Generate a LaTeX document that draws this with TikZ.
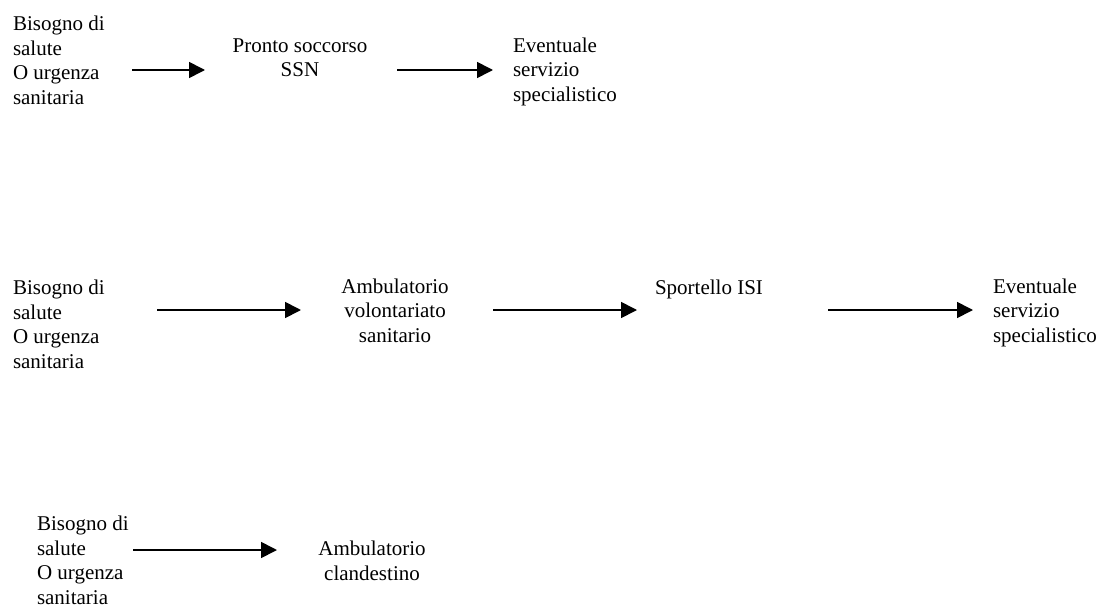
\documentclass[tikz,border=0pt]{standalone}
\usepackage{fontspec}
\setmainfont{Liberation Serif}
\usetikzlibrary{arrows.meta}
\begin{document}
\begin{tikzpicture}[x=1pt,y=-1pt,
  every node/.style={inner sep=0pt,outer sep=0pt,font=\fontsize{21}{24.5}\selectfont},
  leftlabel/.style={align=left,anchor=base west},
  midlabel/.style={align=center,anchor=base},
  flow/.style={line width=1.7pt,-{Triangle[length=16pt,width=16pt]}}]
\useasboundingbox (0,0) rectangle (1099,610);

% first path: emergency room (node base = last line's baseline)
\node[leftlabel] (need1) at (13,104) {Bisogno di\\salute\\O urgenza\\sanitaria};
\node[midlabel] (er) at (300,77) {Pronto soccorso\\SSN};
\node[leftlabel] (spec1) at (513,101) {Eventuale\\servizio\\specialistico};
\coordinate (a1s) at (132,70); \coordinate (a1e) at (205,70);
\coordinate (a2s) at (397,70); \coordinate (a2e) at (493,70);
\draw[flow] (a1s) -- (a1e);
\draw[flow] (a2s) -- (a2e);

% second path: volunteer clinic and ISI desk
\node[leftlabel] (need2) at (13,368) {Bisogno di\\salute\\O urgenza\\sanitaria};
\node[midlabel] (vol) at (395,342) {Ambulatorio\\volontariato\\sanitario};
\node[leftlabel] (isi) at (655,294) {Sportello ISI};
\node[leftlabel] (spec2) at (993,342) {Eventuale\\servizio\\specialistico};
\coordinate (b1s) at (157,310); \coordinate (b1e) at (301,310);
\coordinate (b2s) at (493,310); \coordinate (b2e) at (637,310);
\coordinate (b3s) at (828,310); \coordinate (b3e) at (973,310);
\draw[flow] (b1s) -- (b1e);
\draw[flow] (b2s) -- (b2e);
\draw[flow] (b3s) -- (b3e);

% third path: clandestine clinic
\node[leftlabel] (need3) at (37,604) {Bisogno di\\salute\\O urgenza\\sanitaria};
\node[midlabel] (cland) at (372,580) {Ambulatorio\\clandestino};
\coordinate (c1s) at (133,550); \coordinate (c1e) at (277,550);
\draw[flow] (c1s) -- (c1e);
\end{tikzpicture}
\end{document}
